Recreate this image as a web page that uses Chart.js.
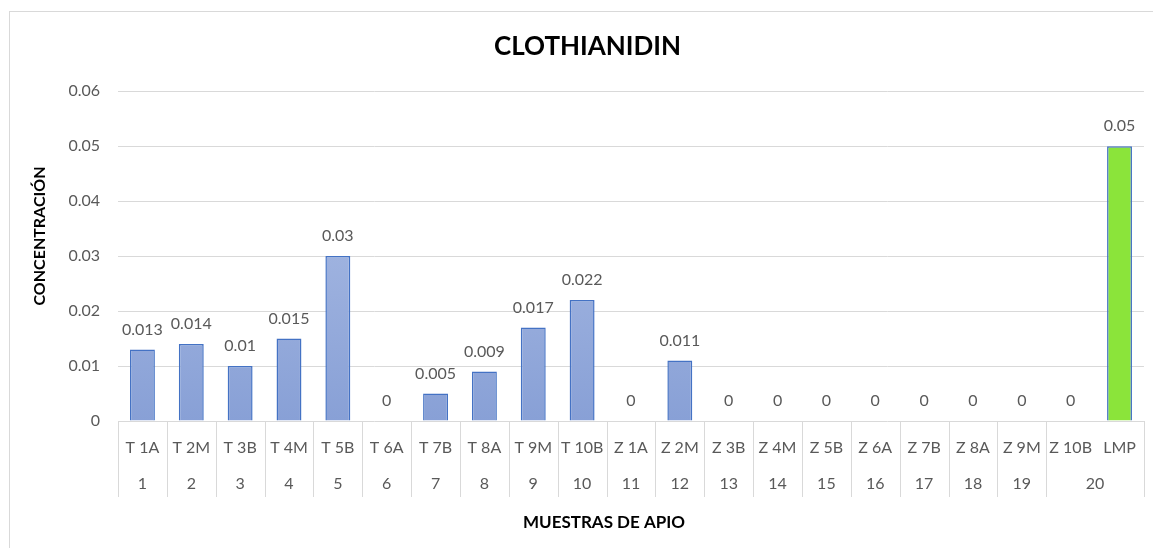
<!DOCTYPE html>
<html>
<head>
<meta charset="utf-8">
<script src="https://cdn.jsdelivr.net/npm/chart.js@4"></script>
<style>
  html, body { margin: 0; padding: 0; background: #fff; }
  #wrap { position: relative; width: 1153px; height: 548px; }
  #frame { position: absolute; left: 9px; top: 11px; right: 0; bottom: 0;
           border-left: 1px solid #d9d9d9; border-top: 1px solid #d9d9d9; pointer-events: none; }
</style>
</head>
<body>
<div id="wrap">
  <canvas id="myChart" width="1153" height="548"></canvas>
  <div id="frame"></div>
</div>
<script>
const muestras = ['T 1A', 'T 2M', 'T 3B', 'T 4M', 'T 5B', 'T 6A', 'T 7B', 'T 8A', 'T 9M', 'T 10B',
    'Z 1A', 'Z 2M', 'Z 3B', 'Z 4M', 'Z 5B', 'Z 6A', 'Z 7B', 'Z 8A', 'Z 9M', 'Z 10B', 'LMP'];
const grupos = ['1', '2', '3', '4', '5', '6', '7', '8', '9', '10',
    '11', '12', '13', '14', '15', '16', '17', '18', '19', '20', '20'];
const concentracion = [0.013, 0.014, 0.01, 0.015, 0.03, 0, 0.005, 0.009, 0.017, 0.022,
    0, 0.011, 0, 0, 0, 0, 0, 0, 0, 0, 0.05];

const fontName = 'Lato, "Liberation Sans", sans-serif';
const grey = '#595959';
const lineGrey = '#d9d9d9';

const barFill = (context) => {
    const chart = context.chart;
    const area = chart.chartArea;
    if (muestras[context.dataIndex] === 'LMP') return '#8be43a';
    if (!area) return '#98aedc';
    const g = chart.ctx.createLinearGradient(0, area.top, 0, area.bottom);
    g.addColorStop(0, '#b4c4e8');
    g.addColorStop(1, '#88a0d6');
    return g;
};

// value labels above the bars
const valueLabels = {
    id: 'valueLabels',
    afterDatasetsDraw(chart) {
        const ctx = chart.ctx;
        const meta = chart.getDatasetMeta(0);
        ctx.save();
        ctx.font = '16px ' + fontName;
        ctx.fillStyle = grey;
        ctx.textAlign = 'center';
        ctx.textBaseline = 'middle';
        meta.data.forEach((bar, i) => {
            ctx.fillText(String(concentracion[i]), bar.x, bar.y - 20);
        });
        ctx.restore();
    }
};

// second row of the category axis, cell separators and axis titles
const twoLevelAxis = {
    id: 'twoLevelAxis',
    afterDraw(chart) {
        const ctx = chart.ctx;
        const x = chart.scales.x;
        const top = chart.chartArea.bottom;
        const step = x.getPixelForValue(1) - x.getPixelForValue(0);
        ctx.save();
        ctx.strokeStyle = lineGrey;
        ctx.lineWidth = 1;
        ctx.font = '16px ' + fontName;
        ctx.fillStyle = grey;
        ctx.textAlign = 'center';
        ctx.textBaseline = 'middle';
        let start = 0;
        for (let i = 0; i <= grupos.length; i++) {
            if (i === grupos.length || grupos[i] !== grupos[start]) {
                const left = x.getPixelForValue(start) - step / 2;
                const right = x.getPixelForValue(i - 1) + step / 2;
                ctx.fillText(grupos[start], (left + right) / 2, top + 63);
                start = i;
            }
            if (i === 0 || i === grupos.length || grupos[i] !== grupos[i - 1]) {
                const px = Math.round(x.getPixelForValue(i) - step / 2) + 0.5;
                ctx.beginPath();
                ctx.moveTo(px, top);
                ctx.lineTo(px, top + 76);
                ctx.stroke();
            }
        }

        ctx.fillStyle = '#000';
        ctx.font = 'bold 17px ' + fontName;
        ctx.fillText('MUESTRAS DE APIO', 604, 523);
        ctx.translate(40, 236);
        ctx.rotate(-Math.PI / 2);
        ctx.font = 'bold 16px ' + fontName;
        ctx.fillText('CONCENTRACIÓN', 0, 0);
        ctx.restore();
    }
};

const ctx = document.getElementById('myChart').getContext('2d');
new Chart(ctx, {
    type: 'bar',
    data: {
        labels: muestras,
        datasets: [{
            data: concentracion,
            backgroundColor: barFill,
            borderColor: '#4472c4',
            borderWidth: 1.5,
            categoryPercentage: 1,
            barPercentage: 0.51
        }]
    },
    options: {
        responsive: false,
        animation: false,
        layout: { padding: { left: 28, right: 6, top: 12, bottom: 14 } },
        plugins: {
            legend: { display: false },
            tooltip: { enabled: false },
            title: {
                display: true,
                text: 'CLOTHIANIDIN',
                color: '#000',
                font: { family: fontName, size: 26, weight: 'bold' },
                padding: { top: 19, bottom: 29 }
            }
        },
        scales: {
            x: {
                grid: { display: false, drawTicks: false },
                border: { display: false },
                ticks: {
                    color: grey,
                    font: { family: fontName, size: 16 },
                    padding: 17,
                    autoSkip: false,
                    maxRotation: 0
                },
                afterFit: (scale) => { scale.height = 113; }
            },
            y: {
                min: 0,
                max: 0.06,
                grid: { color: lineGrey, drawTicks: false },
                border: { display: false },
                ticks: {
                    stepSize: 0.01,
                    color: grey,
                    font: { family: fontName, size: 16 },
                    padding: 18,
                    callback: (v) => String(Number(v.toFixed(2)))
                },
                afterFit: (scale) => { scale.width = 90; }
            }
        }
    },
    plugins: [valueLabels, twoLevelAxis]
});
</script>
</body>
</html>
